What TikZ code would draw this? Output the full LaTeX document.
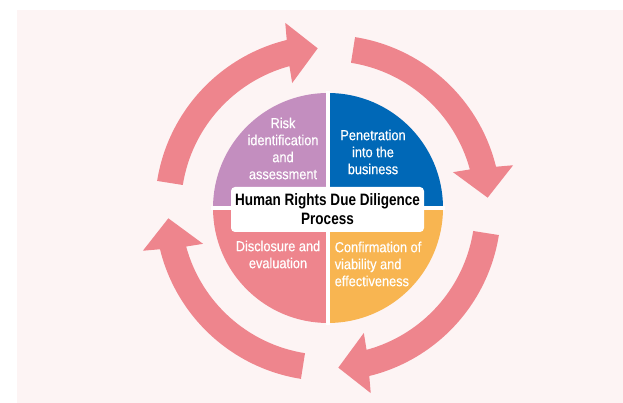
\documentclass[tikz,border=0pt]{standalone}
\usepackage{fontspec}
\setmainfont{Liberation Sans}
\newfontfamily\narrowfont[FakeStretch=0.88, FakeBold=0.4]{Liberation Sans}
\newfontfamily\titlefont[FakeStretch=0.82]{Liberation Sans Bold}

\definecolor{pagebg}{HTML}{FDF4F4}
\definecolor{ringpink}{HTML}{EE858D}
\definecolor{riskpurple}{HTML}{C38EBF}
\definecolor{penblue}{HTML}{0068B7}
\definecolor{confyellow}{HTML}{F8B551}

\begin{document}
\begin{tikzpicture}[
    x=1pt, y=1pt,
    quadlabel/.style={text=white, font=\narrowfont\fontsize{14.5}{17}\selectfont, align=center, inner sep=0pt},
    titlebox/.style={fill=white, rounded corners=4pt, minimum width=193, minimum height=45, align=center, inner sep=0pt, font=\titlefont\fontsize{16.5}{19}\selectfont},
    ringarrow/.style={fill=ringpink}
]

\useasboundingbox (0,0) rectangle (623,403);
\fill[pagebg] (17,0) rectangle (623,393);

\begin{scope}[shift={(328,195)}]
% Cycle arrows
\foreach \a in {171,81,-9,-99} {
  \fill[ringarrow] (\a:173) arc[start angle=\a, end angle=\a-67.2, radius=173]
    -- (\a-68:190) -- (\a-77.3:160) -- (\a-65:130) -- (\a-65.8:147)
    arc[start angle=\a-65.8, end angle=\a, radius=147] -- cycle;
}

% Quadrants
\fill[riskpurple] (0,0) -- (90:115) arc[start angle=90, end angle=180, radius=115] -- cycle;
\fill[penblue] (0,0) -- (0:115) arc[start angle=0, end angle=90, radius=115] -- cycle;
\fill[confyellow] (0,0) -- (-90:115) arc[start angle=-90, end angle=0, radius=115] -- cycle;
\fill[ringpink] (0,0) -- (180:115) arc[start angle=180, end angle=270, radius=115] -- cycle;
\draw[white, line width=4] (-117,0) -- (117,0);
\draw[white, line width=4] (0,-117) -- (0,117);

% Labels
\node[quadlabel] (risk) at (-45,59.5) {Risk\\identification\\and\\assessment};
\node[quadlabel] (penetration) at (45,56) {Penetration\\into the\\business};
\node[quadlabel] (disclosure) at (-50,-46.5) {Disclosure and\\evaluation};
\node[quadlabel, align=left] (confirmation) at (50,-56) {Confirmation of\\viability and\\effectiveness};
\node[titlebox] (title) at (-0.5,-1.5) {Human Rights Due Diligence\\Process};
\end{scope}

\end{tikzpicture}
\end{document}
